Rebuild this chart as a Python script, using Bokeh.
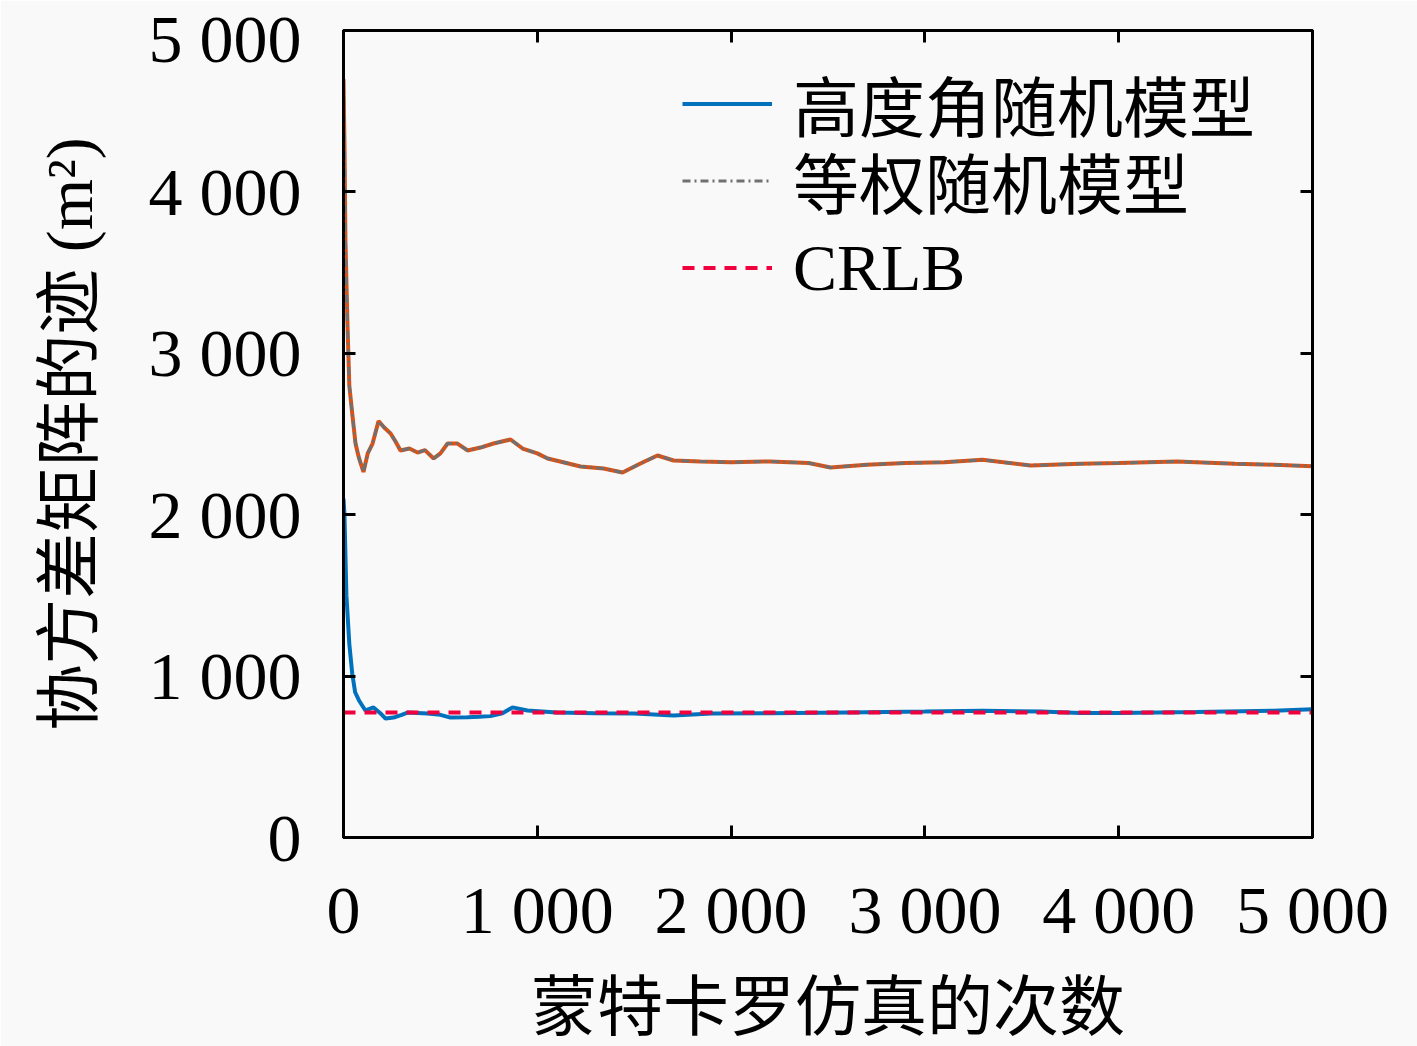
from bokeh.plotting import figure
from bokeh.models import LinearAxis, FixedTicker, Legend, LegendItem
from bokeh.embed import file_html
from bokeh.resources import INLINE

# --- data ---
equal_x = [0, 5, 10, 20, 30, 45, 62, 80, 103, 125, 150, 181, 210, 243, 270, 294,
           340, 382, 420, 465, 500, 537, 588, 640, 707, 774, 862, 924, 1000, 1053,
           1150, 1223, 1342, 1440, 1532, 1620, 1703, 1842, 2000, 2200, 2400, 2513,
           2700, 2900, 3100, 3297, 3545, 3800, 4000, 4300, 4600, 4800, 5000]
equal_y = [4700, 4300, 3700, 3200, 2800, 2627, 2441, 2350, 2265, 2380, 2441, 2580,
           2540, 2503, 2450, 2398, 2410, 2385, 2400, 2348, 2380, 2441, 2441, 2398,
           2416, 2441, 2466, 2410, 2380, 2348, 2320, 2299, 2286, 2261, 2317, 2367,
           2336, 2330, 2325, 2330, 2320, 2292, 2310, 2320, 2325, 2340, 2305, 2315,
           2320, 2330, 2315, 2310, 2300]

elev_x = [0, 5, 15, 30, 45, 60, 80, 113, 155, 190, 217, 258, 300, 330, 433, 500,
          552, 640, 700, 758, 820, 872, 949, 1100, 1300, 1500, 1703, 1900, 2200,
          2600, 3000, 3300, 3600, 3800, 4000, 4400, 4800, 5000]
elev_y = [2100, 2000, 1500, 1200, 1016, 900, 849, 787, 806, 770, 737, 743, 760, 774,
          768, 760, 743, 745, 748, 752, 770, 806, 787, 775, 770, 768, 756, 768, 770,
          775, 780, 785, 780, 772, 772, 778, 785, 795]

crlb_x = [0, 5000]
crlb_y = [775, 775]

ticks = [0, 1000, 2000, 3000, 4000, 5000]
tick_labels = ["0", "1 000", "2 000", "3 000", "4 000", "5 000"]

FONT = "'Liberation Serif', 'Noto Sans CJK SC'"
BG = "#f9f9f9"

p = figure(width=1417, height=1046, output_backend="svg", toolbar_location=None,
           x_range=(0, 5000), y_range=(0, 5000),
           min_border_left=343, min_border_right=105, min_border_top=30,
           min_border_bottom=209,
           x_axis_label="蒙特卡罗仿真的次数", y_axis_label="协方差矩阵的迹 (m²)")
p.background_fill_color = BG
p.border_fill_color = BG
p.grid.visible = False
p.outline_line_color = "black"
p.outline_line_width = 3

overrides = {t: s for t, s in zip(ticks, tick_labels)}

for ax in (p.xaxis[0], p.yaxis[0]):
    ax.ticker = FixedTicker(ticks=ticks)
    ax.major_label_overrides = overrides
    ax.major_label_text_font = FONT
    ax.major_label_text_font_size = "68px"
    ax.major_label_text_color = "black"
    ax.axis_label_text_font = FONT
    ax.axis_label_text_font_size = "66px"
    ax.axis_label_text_font_style = "normal"
    ax.axis_label_text_color = "black"
    ax.axis_line_width = 3
    ax.major_tick_in = 12
    ax.major_tick_out = 0
    ax.major_tick_line_width = 3
    ax.minor_tick_line_color = None

p.yaxis[0].major_label_standoff = 42
p.yaxis[0].axis_label_standoff = 40
p.xaxis[0].major_label_standoff = 34
p.xaxis[0].axis_label_standoff = 20

# ticks on the top and right edges, no labels
for side in ("above", "right"):
    ax = LinearAxis(ticker=FixedTicker(ticks=ticks))
    ax.major_label_text_color = None
    ax.major_label_text_font_size = "8px"
    ax.major_label_standoff = 0
    ax.axis_line_width = 3
    ax.major_tick_in = 12
    ax.major_tick_out = 0
    ax.major_tick_line_width = 3
    ax.minor_tick_line_color = None
    p.add_layout(ax, side)

p.line(equal_x, equal_y, line_color="#D95319", line_width=4)
r_equal = p.line(equal_x, equal_y, line_color="#707070", line_width=3,
                 line_dash="8 4 2 4")
r_elev = p.line(elev_x, elev_y, line_color="#0072BD", line_width=4)
r_crlb = p.line(crlb_x, crlb_y, line_color="#f0003c", line_width=4,
                line_dash="12 9")

# one legend per row so the row spacing can follow the reference
rows = [("高度角随机模型", r_elev, 686), ("等权随机模型", r_equal, 609),
        ("CRLB", r_crlb, 531)]
for label, rend, ypos in rows:
    legend = Legend(items=[LegendItem(label=label, renderers=[rend])],
                    location=(339, ypos))
    legend.label_text_font = FONT
    legend.label_text_font_size = "66px"
    legend.label_text_color = "black"
    legend.label_height = 77
    legend.glyph_height = 77
    legend.glyph_width = 90
    legend.spacing = 0
    legend.padding = 0
    legend.margin = 0
    legend.label_standoff = 21
    legend.border_line_color = None
    legend.background_fill_alpha = 0
    p.add_layout(legend, "center")

open("out.html", "w").write(file_html(p, INLINE))
